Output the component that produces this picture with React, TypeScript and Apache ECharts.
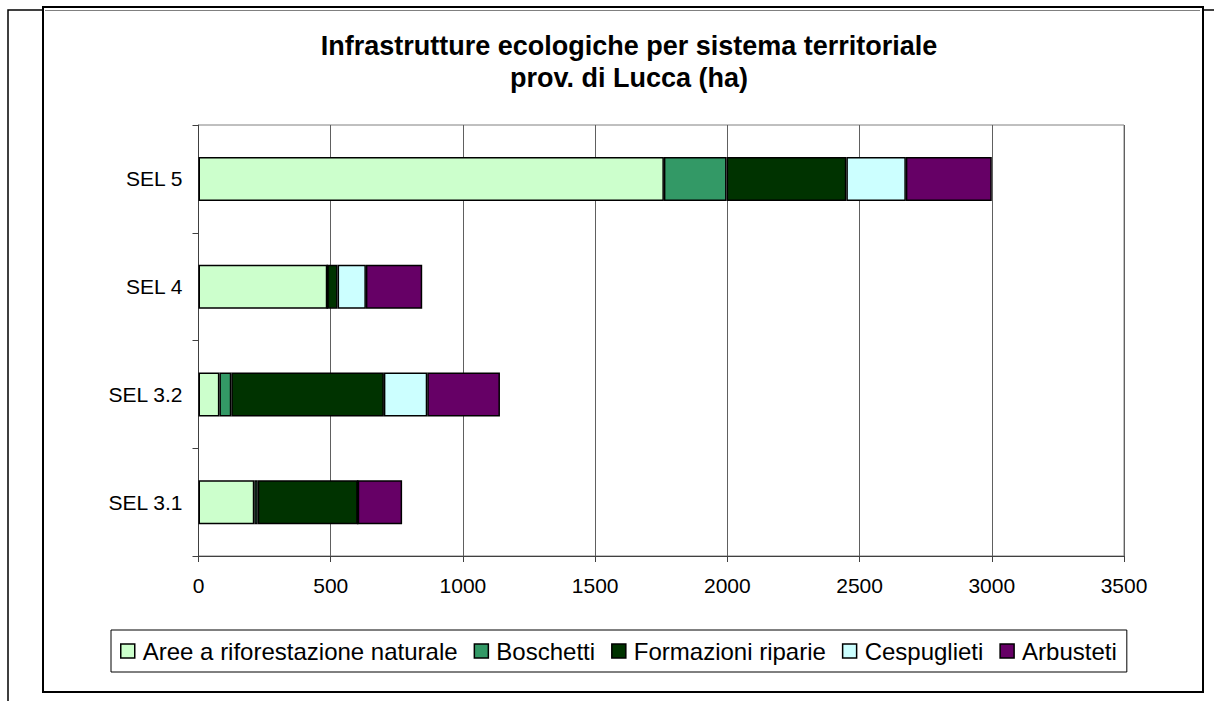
import React, { useEffect, useRef } from "react";
import * as echarts from "echarts";

const categories = ["SEL 3.1", "SEL 3.2", "SEL 4", "SEL 5"];
const seriesNames = [
  "Aree a riforestazione naturale",
  "Boschetti",
  "Formazioni riparie",
  "Cespuglieti",
  "Arbusteti",
];
const aree = [211, 79, 487, 1760];
const boschetti = [13, 45, 0, 237];
const formazioni = [378, 577, 39, 453];
const cespuglieti = [0, 164, 107, 225];
const arbusteti = [168, 275, 213, 325];
const colors = ["#CCFFCC", "#339966", "#003300", "#CCFFFF", "#660066"];
const xTicks = { min: 0, max: 3500, interval: 500 };
const titleLines = [
  "Infrastrutture ecologiche per sistema territoriale",
  "prov. di Lucca (ha)",
];

const FONT = "'Liberation Sans', Arial, sans-serif";

export default function App() {
  const ref = useRef<HTMLDivElement>(null);
  useEffect(() => {
    if (!ref.current) return;
    const chart = echarts.init(ref.current, null, { renderer: "svg" });
    const values = [aree, boschetti, formazioni, cespuglieti, arbusteti];
    chart.setOption({
      animation: false,
      backgroundColor: "#fff",
      textStyle: { fontFamily: FONT },
      title: {
        text: titleLines.join("\n"),
        left: 624,
        top: 25,
        textAlign: "center",
        textStyle: {
          fontFamily: FONT,
          fontSize: 27,
          fontWeight: "bold",
          color: "#000",
          lineHeight: 32,
        },
      },
      legend: {
        data: seriesNames,
        left: 111,
        top: 630,
        orient: "horizontal",
        itemWidth: 14,
        itemHeight: 14,
        itemGap: 16,
        padding: [9, 10, 9, 9],
        borderColor: "#000",
        borderWidth: 1,
        icon: "rect",
        itemStyle: { borderColor: "#000", borderWidth: 1.5 },
        textStyle: {
          fontFamily: FONT,
          fontSize: 24,
          color: "#000",
          padding: [0, 0, 0, 3],
        },
      },
      grid: {
        left: 198.5,
        right: 90,
        top: 125,
        bottom: 145,
        show: true,
        borderColor: "#808080",
        borderWidth: 1,
        containLabel: false,
      },
      xAxis: {
        type: "value",
        min: xTicks.min,
        max: xTicks.max,
        interval: xTicks.interval,
        axisLine: { show: true, lineStyle: { color: "#404040", width: 1 } },
        axisTick: { show: true, length: 6, lineStyle: { color: "#404040" } },
        splitLine: { show: true, lineStyle: { color: "#606060", width: 1 } },
        axisLabel: {
          fontFamily: FONT,
          fontSize: 21,
          color: "#000",
          margin: 19,
          formatter: (v: number) => String(v),
        },
      },
      yAxis: {
        type: "category",
        data: categories,
        axisLine: { show: true, lineStyle: { color: "#404040", width: 1 } },
        axisTick: { show: true, length: 6, lineStyle: { color: "#404040" } },
        splitLine: { show: false },
        axisLabel: {
          fontFamily: FONT,
          fontSize: 21,
          color: "#000",
          margin: 16,
        },
      },
      series: seriesNames.map((name, i) => ({
        name,
        type: "bar",
        stack: "total",
        barWidth: 44,
        data: values[i],
        itemStyle: { color: colors[i], borderColor: "#000", borderWidth: 1.5 },
      })),
      graphic: [
        {
          type: "rect",
          shape: { x: 43, y: 7, width: 1160, height: 685 },
          style: { fill: "none", stroke: "#000", lineWidth: 2 },
          silent: true,
        },
        {
          type: "line",
          shape: { x1: 45, y1: 10.5, x2: 1200, y2: 10.5 },
          style: { stroke: "#808080", lineWidth: 1 },
          silent: true,
        },
        {
          type: "polyline",
          shape: { points: [[8, 701], [8, 10], [43, 10]] },
          style: { fill: "none", stroke: "#000", lineWidth: 1.5 },
          silent: true,
        },
        {
          type: "line",
          shape: { x1: 1204, y1: 10, x2: 1214, y2: 10 },
          style: { stroke: "#000", lineWidth: 1.5 },
          silent: true,
        },
      ],
    });
    return () => chart.dispose();
  }, []);
  return (
    <div
      ref={ref}
      style={{ position: "fixed", left: 0, top: 0, width: 1214, height: 701 }}
    />
  );
}
